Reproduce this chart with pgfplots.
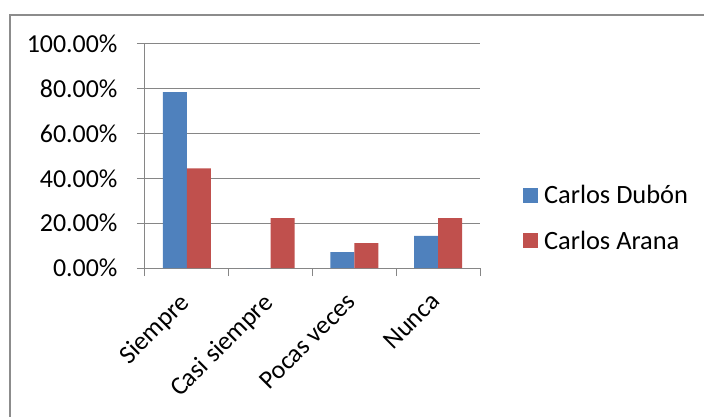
\documentclass[border=0pt]{standalone}
\usepackage{pgfplots}
\pgfplotsset{compat=1.18}
\usepackage{fontspec}
\setmainfont{Carlito}
\definecolor{exblue}{HTML}{4F81BD}
\definecolor{exred}{HTML}{C0504D}
\definecolor{exgrid}{HTML}{868686}
\definecolor{exframe}{HTML}{8C8C8C}
\begin{document}
\begin{tikzpicture}
\begin{axis}[
  scale only axis,
  width=335bp, height=224bp,
  xmin=-0.5, xmax=3.5,
  ymin=0, ymax=100,
  ybar=0pt, bar width=24bp,
  axis line style={exgrid, line width=1bp},
  axis x line*=bottom, axis y line*=left,
  ymajorgrids, grid style={exgrid, line width=1bp},
  tick style={exgrid, line width=1bp},
  tick align=outside, major tick length=8bp,
  xtick={-0.5,0.5,1.5,2.5,3.5}, xticklabels={},
  extra x ticks={0,1,2,3},
  extra x tick labels={Siempre,Casi siempre,Pocas veces,Nunca},
  extra x tick style={major tick length=0pt, grid=none,
     xticklabel style={xshift=-9bp, yshift=-23bp, rotate=45, anchor=north east, inner sep=0pt}},
  ytick={0,20,40,60,80,100},
  yticklabels={0.00\%,20.00\%,40.00\%,60.00\%,80.00\%,100.00\%},
  yticklabel style={xshift=-16bp},
  ticklabel style={font=\fontsize{26}{31}\selectfont},
  legend style={draw=none, fill=none, font=\fontsize{26.5}{31}\selectfont,
     at={(1.128,0.2232)}, anchor=west, inner sep=0pt, row sep=22bp},
  legend cell align=left,
  legend image code/.code={\fill[#1] (0bp,-7.5bp) rectangle (15bp,7.5bp);},
  /tikz/every odd column/.append style={column sep=4bp},
]
\addplot[fill=exblue, draw=none] coordinates {(0,78.57) (1,0) (2,7.14) (3,14.29)};
\addplot[fill=exred, draw=none] coordinates {(0,44.44) (1,22.22) (2,11.11) (3,22.22)};
\legend{Carlos Dubón, Carlos Arana}
\end{axis}
\draw[exframe, line width=2bp] (-135bp,-149bp) -- (-135bp,253bp) -- (559bp,253bp);
\pgfresetboundingbox
\path (-145bp,-149bp) rectangle (559bp,268bp);
\end{tikzpicture}
\end{document}
